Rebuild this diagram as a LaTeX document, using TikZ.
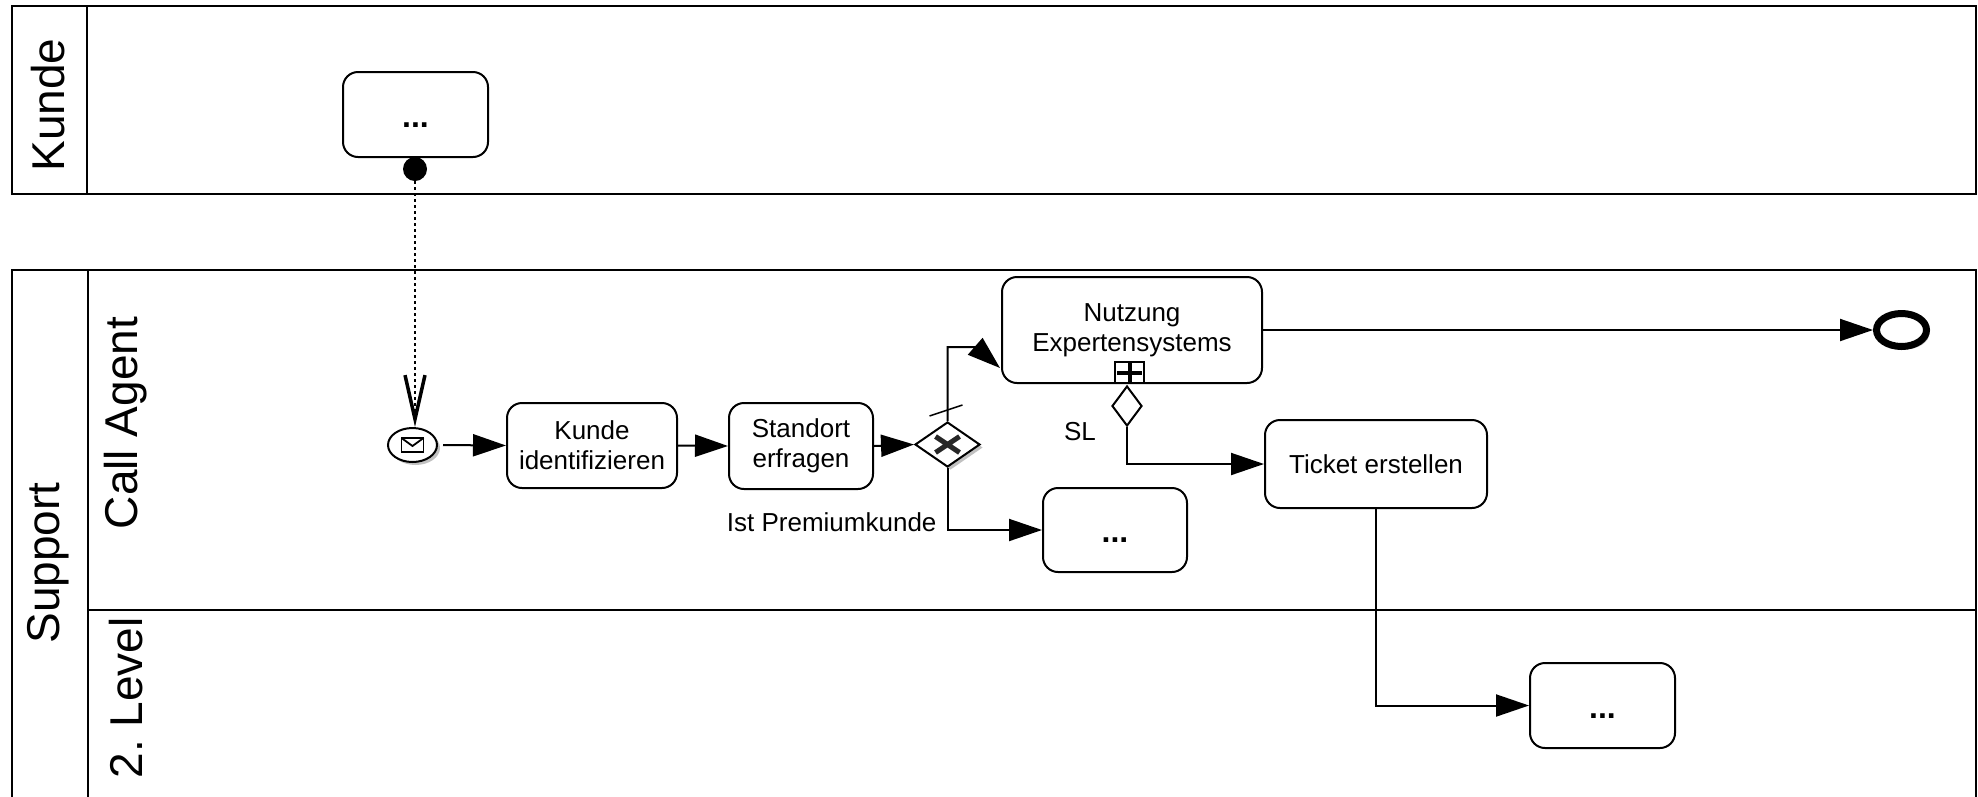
\documentclass[tikz,border=0pt]{standalone}
\usepackage{fontspec}
\setmainfont{Liberation Sans}
\usetikzlibrary{arrows.meta,shapes.geometric,calc,shadows}
\frenchspacing

\begin{document}
\begin{tikzpicture}[x=1pt,y=-1pt,
  every node/.style={font=\fontsize{26}{30}\selectfont},
  boxed/.style={draw,line width=2pt,rounded corners=15pt,inner sep=0pt,fill=white},
  task/.style={boxed,align=center},
  dotstask/.style={boxed,font=\fontsize{32}{36}\bfseries,text height=34pt,text depth=9pt},
  pool/.style={line width=2pt},
  flow/.style={line width=2pt,-{Triangle[length=33pt,width=22pt]}},
  msgflow/.style={line width=1.5pt,dash pattern=on 3pt off 3pt,-{Straight Barb[length=44pt,width=20pt,line width=3.5pt]}},
  lanelabel/.style={rotate=90,font=\fontsize{46}{50}\selectfont},
  evshadow/.style={drop shadow={shadow xshift=3pt,shadow yshift=-3pt,fill=black!30,opacity=0.8}},
]
\useasboundingbox (0,0) rectangle (1978,796);
\clip (0,0) rectangle (1978,796);

% pools and lanes
\draw[pool] (12,6) rectangle (1976,194);
\draw[pool] (87,6) -- (87,194);
\draw[pool] (12,270) rectangle (1976,830);
\draw[pool] (88,270) -- (88,830);
\draw[pool] (88,610) -- (1976,610);

\node[lanelabel] (lKunde) at (48,105) {Kunde};
\node[lanelabel] (lSupport) at (48,563) {Support};
\node[lanelabel] (lCall) at (126,423) {Call Agent};
\node[lanelabel] (lLevel) at (126,698) {2. Level};

% activities
\node[dotstask,minimum width=145pt,minimum height=85pt] (kdots) at (415.5,114.5) {...};
\node[task,minimum width=170pt,minimum height=85pt] (ident) at (592,445.5) {Kunde\\identifizieren};
\node[task,minimum width=144pt,minimum height=86pt] (stand) at (801,446) {Standort\\erfragen};
\node[task,minimum width=260pt,minimum height=106pt] (nutz) at (1132,330) {Nutzung\\Expertensystems};
\node[task,minimum width=222pt,minimum height=88pt] (ticket) at (1376,464) {Ticket erstellen};
\node[dotstask,minimum width=144pt,minimum height=84pt] (cdots) at (1115,530) {...};
\node[dotstask,minimum width=145pt,minimum height=85pt] (ldots) at (1602.5,705.5) {...};

% collapsed sub-process marker
\node[draw,line width=1.8pt,minimum width=29pt,minimum height=21pt,inner sep=0pt,anchor=south,fill=white] (sub) at ($(nutz.south)+(-2.5,0)$) {};
\draw[line width=4pt] (sub.north) -- (sub.south) ($(sub.west)+(3,0)$) -- ($(sub.east)+(-3,0)$);

% events
\node[circle,fill=black,minimum size=24pt,inner sep=0pt] (msg) at (415,169) {};
\node[ellipse,draw,line width=2pt,fill=white,minimum width=49pt,minimum height=34pt,inner sep=0pt,evshadow] (start) at (412.5,445) {};
\draw[line width=1.8pt,line join=miter] ($(start)+(-11,-7)$) rectangle ($(start)+(11,7)$);
\draw[line width=1.8pt] ($(start)+(-11,-7)$) -- ($(start)+(0,1)$) -- ($(start)+(11,-7)$);
\node[ellipse,draw,line width=7pt,fill=white,minimum width=50pt,minimum height=33pt,inner sep=0pt,evshadow] (end) at (1901.5,330) {};

% gateway
\node[diamond,draw,line width=2pt,fill=white,minimum width=65pt,minimum height=45pt,inner sep=0pt,evshadow] (gw) at (947.5,444.5) {};
\draw[line width=5pt,black!85] ($(gw)+(-12,-8)$) -- ($(gw)+(12,8)$) ($(gw)+(-12,8)$) -- ($(gw)+(12,-8)$);

% conditional flow source marker
\node[diamond,draw,line width=2pt,fill=white,minimum width=30pt,minimum height=40pt,inner sep=0pt,anchor=north] (cond) at ($(nutz.south)+(-5,1)$) {};

% flows
\draw[msgflow] (msg.south) -- (msg.south |- start.north);
\draw[flow,shorten <=5pt] (start.east) -- (ident.west);
\draw[flow] (ident.east) -- (stand.west);
\draw[flow] (stand.east) -- (gw.west);
\draw[flow] (gw.north) |- ($(nutz.south west)+(-25,-37)$) -- ($(nutz.south west)+(-1,-16)$);
\draw[line width=1.5pt] ($(gw.north)+(-18,-5)$) -- ($(gw.north)+(15,-16)$);
\draw[flow] (gw.south) |- (cdots.west);
\draw[flow] (nutz.east) -- (end.west);
\draw[flow] (cond.south) |- (ticket.west);
\draw[flow] (ticket.south) |- (ldots.west);

% flow labels
\node[anchor=east] (premium) at (940,522) {Ist Premiumkunde};
\node (sl) at (1080,432) {SL};
\end{tikzpicture}
\end{document}
